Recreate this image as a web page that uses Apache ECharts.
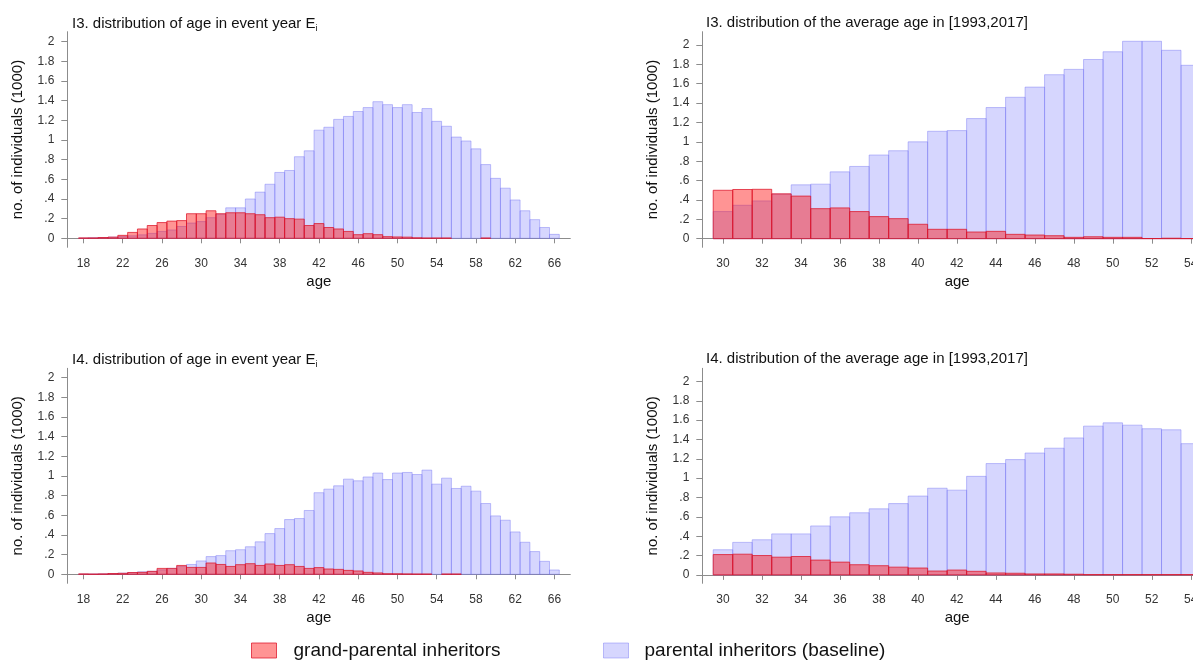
<!DOCTYPE html>
<html><head><meta charset="utf-8">
<script src="https://cdn.jsdelivr.net/npm/echarts@6/dist/echarts.min.js"></script>
<style>html,body{margin:0;padding:0;background:#fff}#c{width:1193px;height:671px}</style>
</head><body><div id="c"></div>
<script>
// ---------- data ----------
const agesEvent = [18,19,20,21,22,23,24,25,26,27,28,29,30,31,32,33,34,35,36,37,38,39,40,41,42,43,44,45,46,47,48,49,50,51,52,53,54,55,56,57,58,59,60,61,62,63,64,65,66];
const agesAvg = [30,31,32,33,34,35,36,37,38,39,40,41,42,43,44,45,46,47,48,49,50,51,52,53,54];

const i3EventParental = [0.0,0.005,0.008,0.012,0.018,0.025,0.035,0.05,0.07,0.085,0.12,0.155,0.17,0.21,0.245,0.31,0.31,0.40,0.47,0.55,0.67,0.69,0.83,0.89,1.10,1.13,1.21,1.24,1.29,1.33,1.39,1.36,1.33,1.36,1.28,1.32,1.19,1.14,1.03,0.99,0.91,0.75,0.61,0.51,0.39,0.28,0.19,0.11,0.04];
const i3EventGrand = [0.004,0.004,0.008,0.012,0.03,0.06,0.095,0.13,0.16,0.175,0.18,0.25,0.25,0.28,0.25,0.26,0.26,0.25,0.24,0.21,0.215,0.20,0.195,0.13,0.15,0.11,0.095,0.07,0.037,0.047,0.037,0.017,0.014,0.012,0.005,0.003,0.003,0.003,null,null,null,0.003,null,null,null,null,null,null,null];

const i3AvgParental = [0.28,0.345,0.39,0.46,0.556,0.563,0.69,0.746,0.864,0.908,1.0,1.109,1.116,1.24,1.354,1.46,1.565,1.693,1.748,1.85,1.93,2.038,2.038,1.945,1.79];
const i3AvgGrand = [0.50,0.508,0.51,0.463,0.44,0.31,0.318,0.28,0.228,0.207,0.149,0.097,0.097,0.069,0.076,0.045,0.038,0.031,0.014,0.02,0.014,0.014,0.002,0.005,0.002];

const i4EventParental = [0.0,0.002,0.004,0.008,0.012,0.018,0.025,0.03,0.045,0.06,0.08,0.10,0.136,0.18,0.19,0.24,0.25,0.28,0.33,0.414,0.465,0.557,0.567,0.649,0.83,0.866,0.90,0.968,0.951,0.99,1.03,0.964,1.03,1.036,1.015,1.06,0.917,0.978,0.873,0.896,0.846,0.72,0.594,0.55,0.431,0.326,0.231,0.132,0.044];
const i4EventGrand = [0.004,0.002,0.004,0.008,0.01,0.018,0.02,0.03,0.06,0.06,0.09,0.07,0.07,0.115,0.10,0.08,0.098,0.108,0.09,0.105,0.09,0.098,0.08,0.06,0.068,0.054,0.05,0.04,0.034,0.02,0.014,0.006,0.005,0.004,0.003,0.003,null,0.003,0.003,null,null,null,null,null,null,null,null,null,null];

const i4AvgParental = [0.26,0.336,0.363,0.424,0.424,0.506,0.60,0.642,0.683,0.737,0.815,0.896,0.876,1.019,1.151,1.192,1.26,1.31,1.416,1.538,1.572,1.548,1.511,1.50,1.357];
const i4AvgGrand = [0.21,0.214,0.20,0.183,0.19,0.153,0.132,0.105,0.095,0.08,0.071,0.04,0.05,0.037,0.02,0.017,0.01,0.01,0.007,0.003,0.003,0.003,0.003,0.003,0.003];

const yTicks = [0,0.2,0.4,0.6,0.8,1,1.2,1.4,1.6,1.8,2];
const xTicksEvent = [18,22,26,30,34,38,42,46,50,54,58,62,66];
const xTicksAvg = [30,32,34,36,38,40,42,44,46,48,50,52,54];

const titles = ['I3. distribution of age in event year E{sub|i}','I3. distribution of the average age in [1993,2017]','I4. distribution of age in event year E{sub|i}','I4. distribution of the average age in [1993,2017]'];
const nameGrand = 'grand-parental inheritors';
const nameParental = 'parental inheritors (baseline)';

// ---------- style ----------
const FONT = 'Liberation Sans, Arial, sans-serif';
const blueFill = 'rgba(90,90,250,0.25)';
const blueStroke = 'rgba(120,120,245,0.45)';
const redFill = 'rgba(255,0,0,0.42)';
const redStroke = 'rgba(220,20,40,0.75)';
const axisCol = '#8c8c8c';

function pairs(ages, vals){ const out=[]; ages.forEach((a,i)=>{ if(vals[i]!==null) out.push([a, vals[i]]); }); return out; }
function barRenderer(fill, stroke){
  return function(params, api){
    const a = api.value(0), v = api.value(1);
    const tl = api.coord([a-0.5, v]);
    const br = api.coord([a+0.5, 0]);
    return {type:'rect', shape:{x:tl[0], y:Math.min(tl[1],br[1]), width:br[0]-tl[0], height:Math.abs(br[1]-tl[1])},
      style:{fill:fill, stroke:stroke, lineWidth:1}};
  };
}
const panels = [
  {left:67.3, top:31.7, width:503, height:215.6, xmin:16.35, xmax:67.62, ymin:-0.0915, ymax:2.102, xt:xTicksEvent, ages:agesEvent, blue:i3EventParental, red:i3EventGrand, tl:72, tt:15},
  {left:702.3, top:31.7, width:509.7, height:215.6, xmin:28.94, xmax:55.09, ymin:-0.0888, ymax:2.137, xt:xTicksAvg, ages:agesAvg, blue:i3AvgParental, red:i3AvgGrand, tl:706, tt:15},
  {left:67.3, top:368.3, width:503, height:215, xmin:16.35, xmax:67.62, ymin:-0.0916, ymax:2.0956, xt:xTicksEvent, ages:agesEvent, blue:i4EventParental, red:i4EventGrand, tl:72, tt:351},
  {left:702.3, top:368.3, width:509.7, height:215, xmin:28.94, xmax:55.09, ymin:-0.087, ymax:2.136, xt:xTicksAvg, ages:agesAvg, blue:i4AvgParental, red:i4AvgGrand, tl:706, tt:351}
];

const option = {animation:false, backgroundColor:'#fff', textStyle:{fontFamily:FONT},
  title:[], grid:[], xAxis:[], yAxis:[], series:[],
  legend:[
    {data:[{name:nameGrand, itemStyle:{color:redFill, borderColor:redStroke, borderWidth:1}}], left:251, top:641, padding:0, icon:'rect', itemWidth:25, itemHeight:15,
      textStyle:{fontSize:19, color:'#111', fontFamily:FONT, padding:[0,0,0,12]}, selectedMode:false},
    {data:[{name:nameParental, itemStyle:{color:blueFill, borderColor:blueStroke, borderWidth:1}}], left:603, top:641, padding:0, icon:'rect', itemWidth:25, itemHeight:15,
      textStyle:{fontSize:19, color:'#111', fontFamily:FONT, padding:[0,0,0,11]}, selectedMode:false}
  ]
};
panels.forEach((p,i)=>{
  option.title.push({text:titles[i], left:p.tl, top:p.tt, padding:0,
    textStyle:{fontSize:15, fontWeight:'normal', color:'#111', fontFamily:FONT, rich:{sub:{fontSize:9, padding:[9,0,0,0], color:'#111', fontFamily:FONT}}}});
  option.grid.push({left:p.left, top:p.top, width:p.width, height:p.height, containLabel:false, outerBoundsMode:'none'});
  option.xAxis.push({type:'value', gridIndex:i, min:p.xmin, max:p.xmax, name:'age', nameLocation:'middle', nameGap:27,
    nameTextStyle:{fontSize:15, color:'#111', fontFamily:FONT},
    axisLine:{show:true, lineStyle:{color:axisCol, width:1}},
    axisTick:{show:true, length:5, customValues:p.xt, lineStyle:{color:axisCol}},
    axisLabel:{customValues:p.xt, fontSize:12, color:'#333', margin:10, fontFamily:FONT},
    splitLine:{show:false}});
  option.yAxis.push({type:'value', gridIndex:i, min:p.ymin, max:p.ymax, name:'no. of individuals (1000)', nameLocation:'middle', nameGap:42,
    nameTextStyle:{fontSize:15, color:'#111', fontFamily:FONT},
    axisLine:{show:true, lineStyle:{color:axisCol, width:1}},
    axisTick:{show:true, length:6, customValues:yTicks, lineStyle:{color:axisCol}},
    axisLabel:{customValues:yTicks, fontSize:12, color:'#333', margin:13, fontFamily:FONT,
      formatter:v=>{ const s=String(Math.round(v*10)/10); return s.replace(/^0\./,'.'); }},
    splitLine:{show:false}});
  option.series.push({type:'custom', name:nameParental, xAxisIndex:i, yAxisIndex:i, clip:true,
    itemStyle:{color:blueFill}, encode:{x:0,y:1}, data:pairs(p.ages,p.blue), renderItem:barRenderer(blueFill, blueStroke)});
  option.series.push({type:'custom', name:nameGrand, xAxisIndex:i, yAxisIndex:i, clip:true,
    itemStyle:{color:redFill}, encode:{x:0,y:1}, data:pairs(p.ages,p.red), renderItem:barRenderer(redFill, redStroke)});
});
const chart = echarts.init(document.getElementById('c'), null, {renderer:'canvas'});
chart.setOption(option);
</script></body></html>
